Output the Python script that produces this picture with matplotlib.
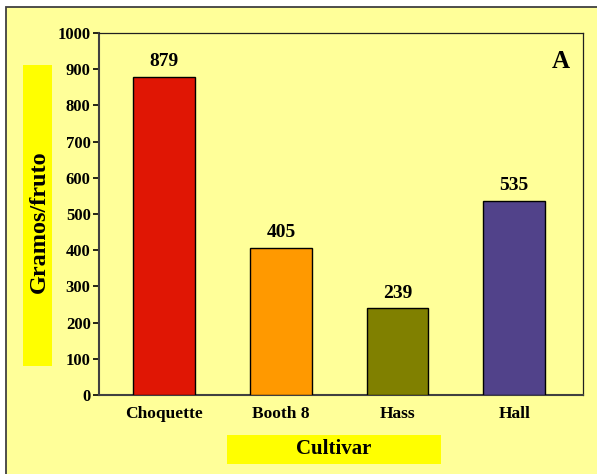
import matplotlib
matplotlib.use("Agg")
import matplotlib.pyplot as plt
from matplotlib.patches import Rectangle

plt.rcParams.update({
    "font.family": "serif",
    "font.serif": ["Liberation Serif", "DejaVu Serif"],
    "font.weight": "bold",
})

# data
cultivares = ["Choquette", "Booth 8", "Hass", "Hall"]
gramos = [879, 405, 239, 535]
colores = ["#E01604", "#FF9900", "#808000", "#51428A"]
yticks = list(range(0, 1001, 100))

W, H = 597, 474
fig = plt.figure(figsize=(W / 100, H / 100), dpi=100, facecolor="white")

def px(x0, y0, x1, y1):
    # pixel box (top-left origin) -> figure fraction rect
    return (x0 / W, 1 - y1 / H, (x1 - x0) / W, (y1 - y0) / H)

# outer panel
l, b, w, h = px(6, 7, W + 5, H + 5)
fig.patches.append(Rectangle((l, b), w, h, transform=fig.transFigure,
                             facecolor="#FFFF99", edgecolor="#404040", lw=1.3, zorder=0))

# label boxes
for box in [(23, 65, 52, 366), (227, 435, 441, 464)]:
    l, b, w, h = px(*box)
    fig.patches.append(Rectangle((l, b), w, h, transform=fig.transFigure,
                                 facecolor="#FFFF00", edgecolor="none", zorder=1))

ax = fig.add_axes(px(99, 33, 583, 395))
ax.set_zorder(3)
ax.set_facecolor("#FFFF99")

x = range(len(cultivares))
bars = ax.bar(x, gramos, width=0.53, color=colores, edgecolor="black", lw=1.0, zorder=3)
for xi, v in zip(x, gramos):
    ax.annotate(str(v), (xi, v), xytext=(0, 5), textcoords="offset points",
                ha="center", va="bottom", fontsize=14, fontweight="bold")

ax.set_xlim(-0.56, 3.59)
ax.set_ylim(0, 1000)
ax.set_yticks(yticks)
ax.set_xticks(list(x))
ax.set_xticklabels(cultivares)
ax.tick_params(axis="y", direction="out", length=4, width=1.2, pad=2, labelsize=12)
ax.tick_params(axis="x", length=0, pad=8, labelsize=12.5)

for s in ["left", "bottom"]:
    ax.spines[s].set_color("#404040")
    ax.spines[s].set_linewidth(1.5)
for s in ["top", "right"]:
    ax.spines[s].set_color("#202020")
    ax.spines[s].set_linewidth(0.9)

ax.text(0.972, 0.92, "A", transform=ax.transAxes, ha="right", va="center",
        fontsize=18, fontweight="bold")

fig.text(39 / W, 1 - 222 / H, "Gramos/fruto", rotation=90, ha="center", va="center",
         fontsize=17.5, fontweight="bold", zorder=2)
fig.text(334 / W, 1 - 449.5 / H, "Cultivar", ha="center", va="center",
         fontsize=15, fontweight="bold", zorder=2)

fig.savefig("out.png", dpi=100, facecolor="white")
